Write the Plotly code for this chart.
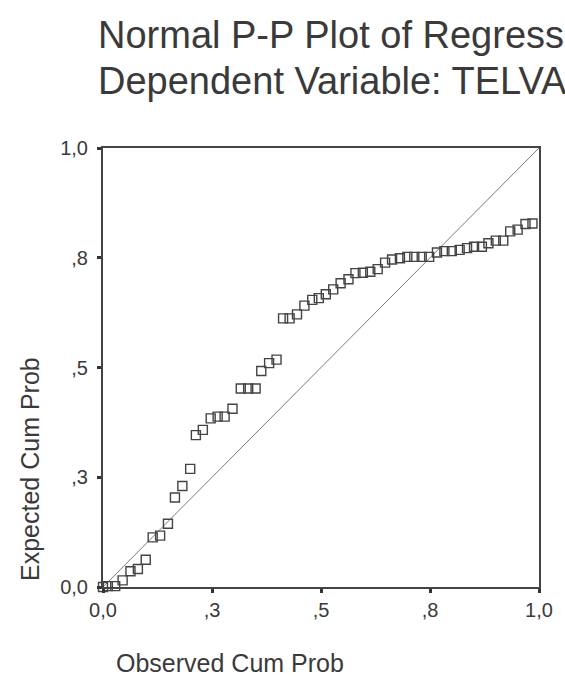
import plotly.graph_objects as go

# Observed vs expected cumulative probabilities of the standardized residuals
observed_cum_prob = [
    0.000, 0.011, 0.028, 0.045, 0.063, 0.080, 0.098, 0.114, 0.131, 0.149,
    0.165, 0.182, 0.200, 0.213, 0.229, 0.247, 0.263, 0.279, 0.297, 0.316,
    0.333, 0.350, 0.363, 0.381, 0.398, 0.413, 0.428, 0.445, 0.462, 0.480,
    0.495, 0.511, 0.528, 0.545, 0.563, 0.579, 0.596, 0.613, 0.630, 0.647,
    0.663, 0.681, 0.698, 0.714, 0.731, 0.748, 0.766, 0.783, 0.800, 0.818,
    0.835, 0.851, 0.869, 0.884, 0.901, 0.918, 0.934, 0.951, 0.969, 0.985,
]
expected_cum_prob = [
    0.000, 0.002, 0.002, 0.015, 0.036, 0.041, 0.062, 0.113, 0.117, 0.144,
    0.204, 0.230, 0.269, 0.346, 0.358, 0.384, 0.388, 0.388, 0.406, 0.452,
    0.452, 0.452, 0.492, 0.510, 0.518, 0.612, 0.612, 0.621, 0.641, 0.654,
    0.658, 0.667, 0.678, 0.692, 0.701, 0.715, 0.716, 0.718, 0.724, 0.739,
    0.746, 0.749, 0.752, 0.752, 0.752, 0.752, 0.762, 0.765, 0.765, 0.768,
    0.772, 0.775, 0.775, 0.783, 0.789, 0.789, 0.810, 0.814, 0.827, 0.828,
]

# Reference line of a perfectly normal distribution
diag = [0.0, 1.0]

tick_vals = [0.0, 0.25, 0.5, 0.75, 1.0]
tick_text = ["0,0", ",3", ",5", ",8", "1,0"]

title_line1 = "Normal P-P Plot of Regression Standardized Residual"
title_line2 = "Dependent Variable: TELVA"
x_title = "Observed Cum Prob"
y_title = "Expected Cum Prob"

FONT = "Liberation Sans, Arial, sans-serif"
INK = "#3a3a3a"

fig = go.Figure()
fig.add_trace(go.Scatter(
    x=diag, y=diag, mode="lines",
    line=dict(color="#7a7a7a", width=1),
    hoverinfo="skip", showlegend=False,
))
fig.add_trace(go.Scatter(
    x=observed_cum_prob, y=expected_cum_prob, mode="markers",
    marker=dict(symbol="square-open", size=9, color="#444444",
                line=dict(width=1.4, color="#444444")),
    cliponaxis=False, showlegend=False,
))

axis_common = dict(
    range=[0, 1],
    tickvals=tick_vals,
    ticktext=tick_text,
    ticks="outside",
    ticklen=4,
    tickwidth=3,
    tickcolor="#333333",
    showline=True,
    linecolor="#444444",
    linewidth=2,
    mirror=True,
    showgrid=False,
    zeroline=False,
    tickfont=dict(family=FONT, size=20, color=INK),
)

fig.update_layout(
    width=565,
    height=686,
    margin=dict(l=103, r=19, t=148, b=99),
    paper_bgcolor="white",
    plot_bgcolor="white",
    xaxis=dict(axis_common, ticklabelstandoff=0),
    yaxis=dict(axis_common, ticklabelstandoff=5),
    annotations=[
        dict(text=title_line1, xref="paper", yref="paper",
             x=-0.015, y=1.257, xanchor="left", yanchor="middle",
             showarrow=False, font=dict(family=FONT, size=38, color=INK)),
        dict(text=title_line2, xref="paper", yref="paper",
             x=-0.015, y=1.152, xanchor="left", yanchor="middle",
             showarrow=False, font=dict(family=FONT, size=38, color=INK)),
        dict(text=x_title, xref="paper", yref="paper",
             x=0.292, y=-0.173, xanchor="center", yanchor="middle",
             showarrow=False, font=dict(family=FONT, size=25, color=INK)),
        dict(text=y_title, xref="paper", yref="paper",
             x=-0.166, y=0.268, xanchor="center", yanchor="middle",
             textangle=-90,
             showarrow=False, font=dict(family=FONT, size=25, color=INK)),
    ],
)

fig.write_html("out.html")
